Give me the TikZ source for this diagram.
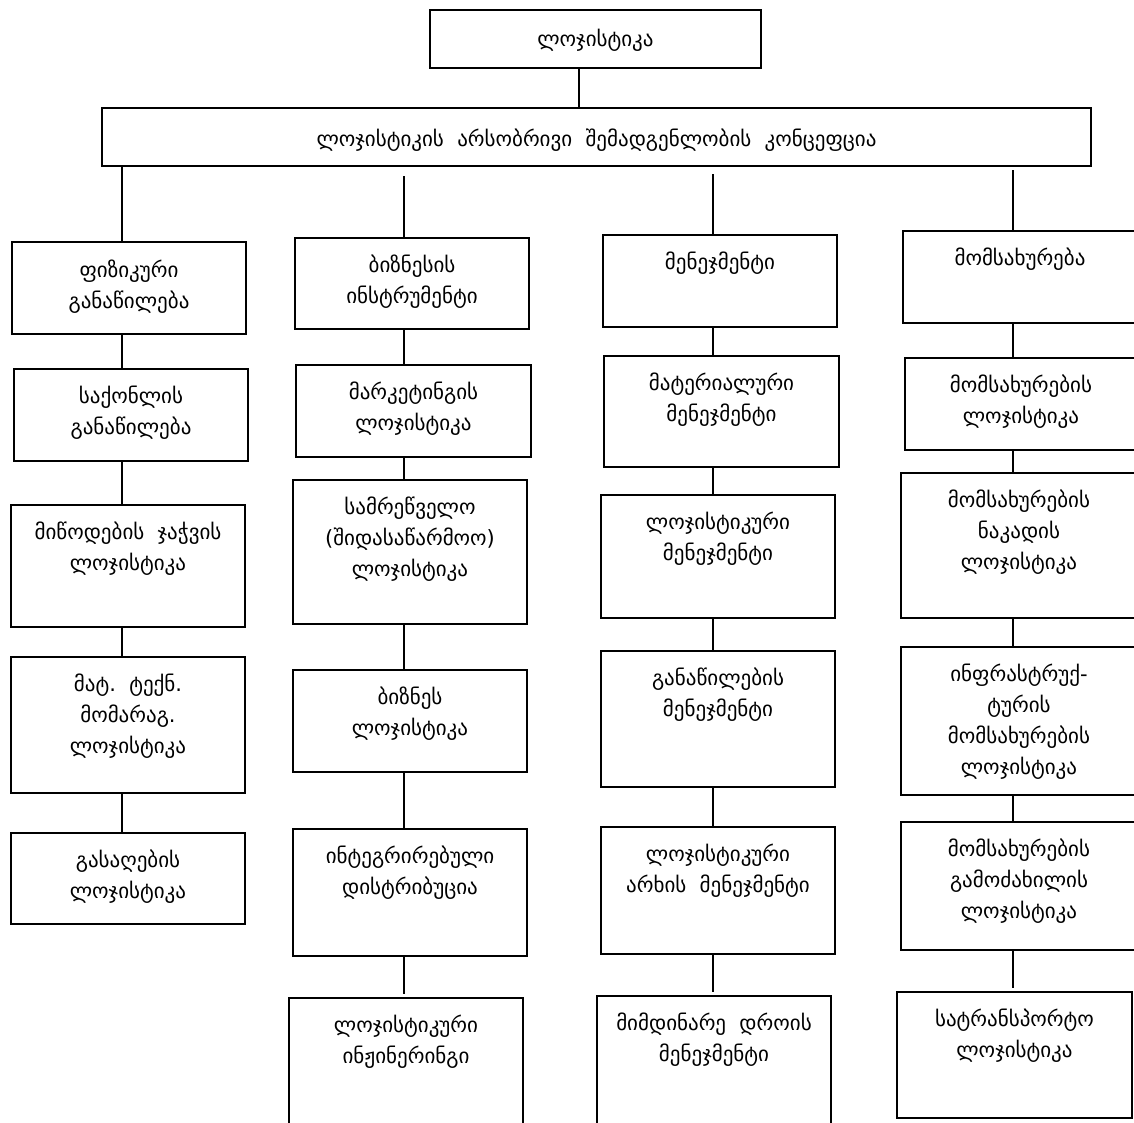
\documentclass[tikz,border=0pt]{standalone}
\usepackage{fontspec}
\setmainfont{DejaVu Sans}
\begin{document}
\begin{tikzpicture}[x=1pt,y=-1pt,
  boxst/.style={draw, line width=1.4pt, inner sep=0pt, outer sep=0pt},
  txt/.style={align=center, inner sep=0pt, font=\fontsize{21}{31}\selectfont},
  conn/.style={line width=1.2pt}]
\useasboundingbox (0,0) rectangle (1134,1122);
\clip (0,0) rectangle (1134,1122);
\newcommand\mkbox[7]{%
  \node[boxst, minimum width={#4-#2}, minimum height={#5-#3}] (#1) at ({(#2+#4)/2},{(#3+#5)/2}) {};
  \node[txt, anchor=north] (#1t) at ({(#2+#4)/2},{#3+#6}) {\strut#7};}
% x positions of connectors
\coordinate (xt) at (579,0);
\coordinate (x1) at (122,0);
\coordinate (x2) at (404,0);
\coordinate (x3) at (713,0);
\coordinate (x4) at (1013,0);
% top
\mkbox{top}{430}{10}{761}{68}{15}{ლოჯისტიკა}
\mkbox{wide}{102}{108}{1091}{166}{17}{ლოჯისტიკის\ \ არსობრივი\ \ შემადგენლობის\ \ კონცეფცია}
% column 1
\mkbox{ca}{12}{242}{246}{334}{14}{ფიზიკური\\განაწილება}
\mkbox{cb}{14}{369}{248}{461}{13}{საქონლის\\განაწილება}
\mkbox{cc}{11}{505}{245}{627}{13}{მიწოდების\ \ ჯაჭვის\\ლოჯისტიკა}
\mkbox{cd}{11}{657}{245}{793}{13}{მატ.\ \ ტექნ.\\მომარაგ.\\ლოჯისტიკა}
\mkbox{ce}{11}{833}{245}{924}{13}{გასაღების\\ლოჯისტიკა}
% column 2
\mkbox{da}{295}{238}{529}{329}{13}{ბიზნესის\\ინსტრუმენტი}
\mkbox{db}{296}{365}{531}{457}{13}{მარკეტინგის\\ლოჯისტიკა}
\mkbox{dc}{293}{480}{527}{624}{13}{სამრეწველო\\(შიდასაწარმოო)\\ლოჯისტიკა}
\mkbox{dd}{293}{670}{527}{772}{13}{ბიზნეს\\ლოჯისტიკა}
\mkbox{de}{293}{829}{527}{956}{13}{ინტეგრირებული\\დისტრიბუცია}
\mkbox{df}{289}{998}{523}{1145}{13}{ლოჯისტიკური\\ინჟინერინგი}
% column 3
\mkbox{ea}{603}{235}{837}{327}{13}{მენეჯმენტი}
\mkbox{eb}{604}{356}{839}{467}{13}{მატერიალური\\მენეჯმენტი}
\mkbox{ec}{601}{495}{835}{618}{13}{ლოჯისტიკური\\მენეჯმენტი}
\mkbox{ed}{601}{651}{835}{787}{13}{განაწილების\\მენეჯმენტი}
\mkbox{ee}{601}{827}{835}{954}{13}{ლოჯისტიკური\\არხის\ \ მენეჯმენტი}
\mkbox{ef}{597}{996}{831}{1145}{13}{მიმდინარე\ \ დროის\\მენეჯმენტი}
% column 4
\mkbox{fa}{903}{231}{1137}{323}{13}{მომსახურება}
\mkbox{fb}{905}{358}{1137}{450}{13}{მომსახურების\\ლოჯისტიკა}
\mkbox{fc}{901}{473}{1137}{618}{13}{მომსახურების\\ნაკადის\\ლოჯისტიკა}
\mkbox{fd}{901}{647}{1137}{795}{13}{ინფრასტრუქ-\\ტურის\\მომსახურების\\ლოჯისტიკა}
\mkbox{fe}{901}{822}{1137}{950}{13}{მომსახურების\\გამოძახილის\\ლოჯისტიკა}
\mkbox{ff}{897}{992}{1132}{1118}{13}{სატრანსპორტო\\ლოჯისტიკა}
% connectors
\draw[conn] (top.south -| xt) -- (wide.north -| xt);
\draw[conn] (wide.south -| x1) -- (ca.north -| x1);
\draw[conn, shorten <=10pt] (wide.south -| x2) -- (da.north -| x2);
\draw[conn, shorten <=8pt] (wide.south -| x3) -- (ea.north -| x3);
\draw[conn, shorten <=4pt] (wide.south -| x4) -- (fa.north -| x4);
\foreach \p/\q in {ca/cb,cb/cc,cc/cd,cd/ce}
  \draw[conn] (\p.south -| x1) -- (\q.north -| x1);
\foreach \p/\q in {da/db,db/dc,dc/dd,dd/de}
  \draw[conn] (\p.south -| x2) -- (\q.north -| x2);
\draw[conn, shorten >=4pt] (de.south -| x2) -- (df.north -| x2);
\foreach \p/\q in {ea/eb,eb/ec,ec/ed,ed/ee}
  \draw[conn] (\p.south -| x3) -- (\q.north -| x3);
\draw[conn, shorten >=4pt] (ee.south -| x3) -- (ef.north -| x3);
\foreach \p/\q in {fa/fb,fb/fc,fc/fd,fd/fe}
  \draw[conn] (\p.south -| x4) -- (\q.north -| x4);
\draw[conn, shorten >=4pt] (fe.south -| x4) -- (ff.north -| x4);
\end{tikzpicture}
\end{document}
